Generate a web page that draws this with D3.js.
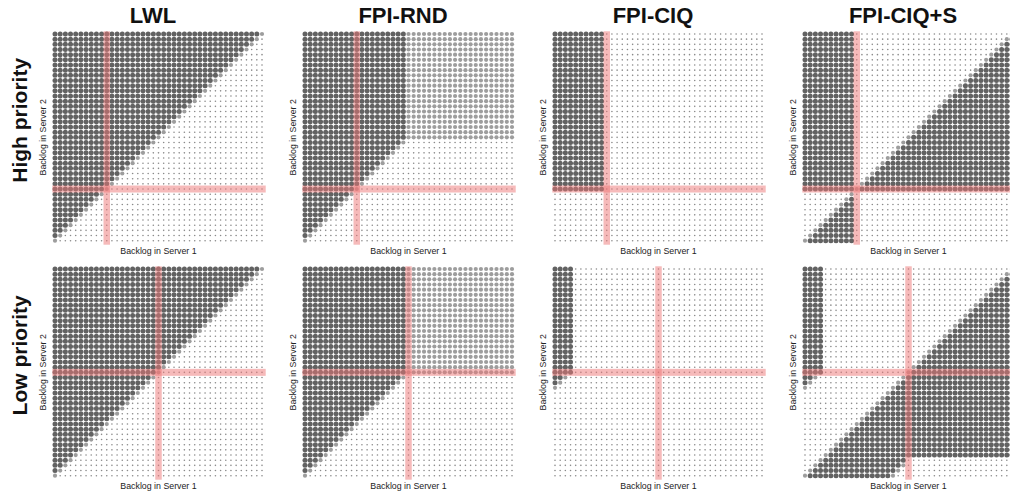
<!DOCTYPE html>
<html>
<head>
<meta charset="utf-8">
<script src="https://cdn.jsdelivr.net/npm/d3@7"></script>
<style>
body{margin:0;background:#fff;}
svg{display:block;}
</style>
</head>
<body>
<div class="policyMaps"></div>
<script>
var policies = ["LWL","FPI-RND","FPI-CIQ","FPI-CIQ+S"];
var priorities = ["High priority","Low priority"];
var thresholds = [10,20];           // red threshold per priority row
var backlogs = d3.range(0,41);      // backlog levels 0..40 on both axes
var xTitle = "Backlog in Server 1";
var yTitle = "Backlog in Server 2";

// region rules: [value, x1min, x1max, x2min, x2max, dmin, dmax], d = x1 - x2
// first match wins, anything else is 0 (tiny dot). value 1 = dark dot, 0.5 = light dot
var lwlHigh = [[0.5,0,40,0,40,0,0],[1,0,40,0,40,-40,-1]];
var lwlLow  = [[0.5,0,40,0,40,0,0],[1,0,40,0,40,-40,-1]];
var rndHigh = [[0.5,20,40,20,40,-40,40],[0.5,0,40,0,40,0,0],[1,0,19,0,40,-40,-1]];
var rndLow  = [[0.5,20,40,20,40,-40,40],[0.5,0,40,0,40,0,0],[1,0,19,0,40,-40,-1]];
var ciqHigh = [[1,0,9,10,40,-40,40]];
var ciqLow  = [[1,0,3,20,40,-40,40],[1,0,40,0,19,-40,-18],[0.5,0,40,0,19,-17,-17]];
var ciqsHigh = [[0.5,10,10,10,10,0,0],[1,0,40,10,10,-40,40],[1,0,9,11,40,-40,40],
	[0.5,11,40,11,40,0,0],[1,11,40,11,40,1,40],[0.5,0,9,0,9,0,0],[1,0,9,0,9,1,40]];
var ciqsLow = [[1,0,3,20,40,-40,40],[1,0,40,0,19,-40,-18],[0.5,0,40,0,19,-17,-17],
	[0.5,0,40,0,40,0,0],[1,20,40,4,40,1,40],[1,0,19,0,40,1,16],[0.5,0,19,0,40,17,17]];

var panelRules = [
	[lwlHigh, rndHigh, ciqHigh, ciqsHigh],
	[lwlLow, rndLow, ciqLow, ciqsLow]
];

function cellValue(rules, x1, x2){
	var d = x1 - x2;
	for(var i=0;i<rules.length;i++){
		var r = rules[i];
		if(x1>=r[1] && x1<=r[2] && x2>=r[3] && x2<=r[4] && d>=r[5] && d<=r[6]) return r[0];
	}
	return 0;
}

function policyMaps(){
	var width = 1010, height = 496;
	var svg = d3.select(".policyMaps").append("svg").attr("width",width).attr("height",height)
	svg.append("rect").attr("width",width).attr("height",height).attr("fill","#fff")

	var radius = d3.scaleOrdinal().domain([0,0.5,1]).range([0.8,2.1,2.5])
	var color = d3.scaleOrdinal().domain([0,0.5,1]).range(["#8a8a8a","#9d9d9d","#626262"])
	var cells = d3.cross(backlogs, backlogs)

	var colStart = d3.scaleLinear().domain([0,1]).range([55,305])
	var rowTop = d3.scaleLinear().domain([0,1]).range([34,269])
	var panelW = 207, panelH = 206.7;

	policies.forEach(function(p,i){
		svg.append("text").text(p)
		.attr("x",colStart(i)+panelW/2-5.5)
		.attr("y",23)
		.attr("text-anchor","middle")
		.style("font-family","'Liberation Sans', Arial, sans-serif")
		.style("font-weight","bold")
		.style("font-size","22px")
		.attr("fill","#111")
	})

	priorities.forEach(function(pr,j){
		svg.append("text").text(pr)
		.attr("transform","translate(26.5,"+(rowTop(j)+panelH/2-17)+") rotate(-90)")
		.attr("text-anchor","middle")
		.style("font-family","'Liberation Sans', Arial, sans-serif")
		.style("font-weight","bold")
		.style("font-size","21px")
		.attr("fill","#111")

		policies.forEach(function(p,i){
			var x = d3.scaleLinear().domain([0,40]).range([colStart(i),colStart(i)+panelW])
			var y = d3.scaleLinear().domain([0,40]).range([rowTop(j)+panelH,rowTop(j)])
			var rules = panelRules[j][i]
			var g = svg.append("g").attr("class","panel")

			g.selectAll("circle").data(cells).enter().append("circle")
			.attr("cx",function(d){return x(d[0])})
			.attr("cy",function(d){return y(d[1])})
			.attr("r",function(d){return radius(cellValue(rules,d[0],d[1]))})
			.attr("fill",function(d){return color(cellValue(rules,d[0],d[1]))})

			var t = thresholds[j];
			g.append("rect")
			.attr("x",x(t)-3.25).attr("y",y(40)-2.7)
			.attr("width",6.5).attr("height",y(0)-y(40)+6.7)
			.attr("fill","#ee7676").attr("opacity",0.5)
			g.append("rect")
			.attr("x",x(0)-2.7).attr("y",y(t)-3.5)
			.attr("width",x(40)-x(0)+6.4).attr("height",7)
			.attr("fill","#ee7676").attr("opacity",0.5)

			g.append("text").text(xTitle)
			.attr("x",(x(0)+x(40))/2)
			.attr("y",y(0)+13.5)
			.attr("text-anchor","middle")
			.style("font-family","'Liberation Sans', Arial, sans-serif")
			.style("font-size","8.8px")
			.attr("fill","#222")

			g.append("text").text(yTitle)
			.attr("transform","translate("+(x(0)-9.5)+","+((y(0)+y(40))/2)+") rotate(-90)")
			.attr("text-anchor","middle")
			.style("font-family","'Liberation Sans', Arial, sans-serif")
			.style("font-size","8.8px")
			.attr("fill","#222")
		})
	})
}
policyMaps()
</script>
</body>
</html>
